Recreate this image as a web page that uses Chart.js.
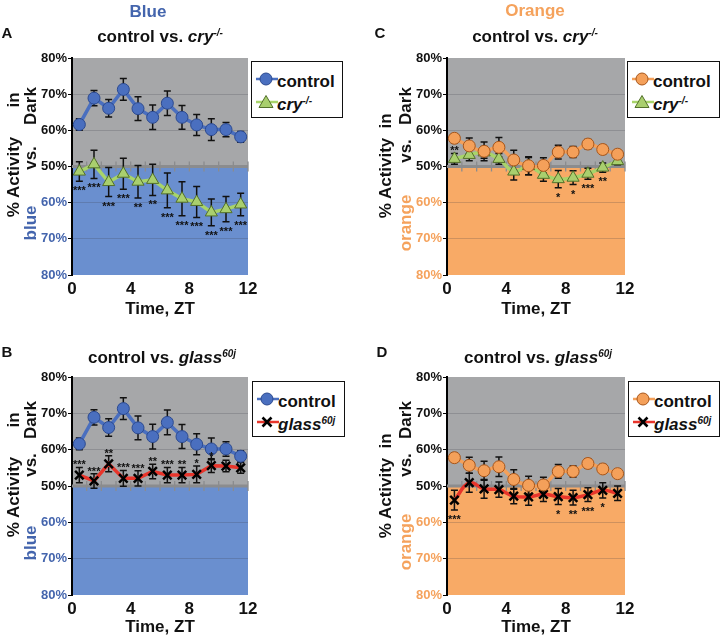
<!DOCTYPE html>
<html><head><meta charset="utf-8">
<script src="https://cdn.jsdelivr.net/npm/chart.js@4.4.0/dist/chart.umd.min.js"></script>
<style>
body{margin:0;background:#fff;}
#fig{position:relative;width:720px;height:638px;font-family:"Liberation Sans",Arial,Helvetica,sans-serif;font-weight:bold;color:#111;overflow:hidden;background:#fff}
.c{position:absolute;white-space:nowrap;transform:translate(-50%,-50%);line-height:1}
.r{position:absolute;white-space:nowrap;transform:translate(-50%,-50%) rotate(-90deg);line-height:1;font-size:17px}
canvas{position:absolute}
sup{font-size:10px;vertical-align:6px;line-height:0;font-style:italic}
.leg{position:absolute;border:1.5px solid #111;background:#fff;box-sizing:border-box}
.li{position:absolute;white-space:nowrap;font-size:17px;line-height:1;transform:translateY(-50%)}
.ls{position:absolute;transform:translateY(-50%)}
</style></head>
<body>
<div id="fig"></div>
<script>
// ---------- data ----------
const ztHours = [0.5,1.5,2.5,3.5,4.5,5.5,6.5,7.5,8.5,9.5,10.5,11.5];
const xTickValues = [0,4,8,12];
const yTickValues = [20,30,40,50,60,70,80];
const yTickLabels = ['80%','70%','60%','50%','60%','70%','80%'];

// % activity in dark (values below 50 = more activity in the light)
const blueControl    = [61.6,68.9,66.1,71.3,66.0,63.6,67.5,63.6,61.5,60.2,60.2,58.2];
const blueControlErr = [1.6,2.1,2.4,3.0,3.3,3.4,3.4,3.3,2.9,3.0,2.0,1.5];
const blueCry        = [48.6,50.6,45.7,48.0,45.8,46.3,43.4,41.1,40.2,37.3,38.2,39.5];
const blueCryErr     = [2.7,3.9,4.0,4.3,4.5,4.3,4.8,4.7,4.3,3.7,3.5,3.1];
const blueCrySig     = ['***','***','***','***','**','**','***','***','***','***','***','***'];
const blueGlass      = [53.0,51.4,56.1,52.1,52.1,54.0,53.0,53.0,53.2,55.6,55.5,55.0];
const blueGlassErr   = [2.1,2.0,2.2,2.2,2.1,2.0,2.1,2.1,2.3,1.9,1.6,1.5];
const blueGlassSig   = ['***','***','**','***','***','**','***','**','*','*','',''];

const orangeControl    = [57.8,55.7,54.2,55.3,51.8,50.2,50.3,54.0,54.0,56.2,54.7,53.4];
const orangeControlErr = [1.2,2.2,2.6,2.7,2.7,2.5,2.1,1.9,1.5,1.3,1.2,1.1];
const orangeCry        = [52.1,53.2,53.9,52.1,48.6,50.1,47.7,46.5,46.9,48.0,49.7,51.5];
const orangeCryErr     = [1.5,1.6,1.6,1.5,2.3,2.4,1.8,2.4,1.9,1.5,1.3,1.0];
const orangeCrySig     = ['**','','','','','','','*','*','***','**',''];
const orangeGlass      = [46.1,50.9,49.2,49.0,47.2,47.0,47.7,47.1,46.8,47.6,48.8,48.0];
const orangeGlassErr   = [2.7,2.6,2.6,2.1,2.1,2.3,2.0,2.2,2.0,1.9,2.1,2.0];
const orangeGlassSig   = ['***','','','','','','','*','**','***','*',''];

// ---------- styles ----------
const COL = {
  gray:'#a6a7a9', blueBg:'#6a8fcf', orangeBg:'#f8aa66',
  blueTxt:'#4465ad', orangeTxt:'#f5a25c',
  ctlBlue:'#4a6fbf', ctlBlueEdge:'#2c4a90',
  ctlOrange:'#f4a05a', ctlOrangeEdge:'#a8561a',
  green:'#a8d46a', greenFill:'#a9cf6e', greenEdge:'#53702a',
  red:'#e8352b'
};

const fig = document.getElementById('fig');
function addDiv(cls, html, x, y, style){
  const d = document.createElement('div');
  d.className = cls; d.innerHTML = html;
  d.style.left = x+'px'; d.style.top = y+'px';
  if (style) Object.assign(d.style, style);
  fig.appendChild(d); return d;
}

const plotPlugin = {
  id:'plotDeco',
  beforeDraw(chart, args, o){
    const {ctx, chartArea:a, scales:{y}} = chart;
    const yT = y.getPixelForValue(80), y5 = y.getPixelForValue(50), yB = y.getPixelForValue(20);
    ctx.save();
    ctx.fillStyle = o.topColor; ctx.fillRect(a.left, yT, a.right-a.left, y5-yT);
    ctx.fillStyle = o.bottomColor; ctx.fillRect(a.left, y5, a.right-a.left, yB-y5);
    ctx.restore();
  },
  beforeDatasetsDraw(chart){
    const {ctx, chartArea:a, scales:{x,y}} = chart;
    const y5 = y.getPixelForValue(50);
    ctx.save();
    ctx.strokeStyle = '#8b8c8e'; ctx.lineWidth = 3;
    ctx.beginPath(); ctx.moveTo(a.left, y5); ctx.lineTo(a.right, y5); ctx.stroke();
    ctx.lineWidth = 1.3; ctx.beginPath();
    for (let v = 1; v <= 12; v++){ const px = x.getPixelForValue(v); ctx.moveTo(px, y5-5); ctx.lineTo(px, y5+5); }
    ctx.stroke();
    ctx.strokeStyle = '#111'; ctx.lineWidth = 1.5;
    chart.data.datasets.forEach(ds => {
      if (!ds.err) return;
      ds.data.forEach((p, i) => {
        const px = x.getPixelForValue(p.x);
        const hi = y.getPixelForValue(p.y + ds.err[i]);
        const lo = y.getPixelForValue(p.y - ds.err[i]);
        ctx.beginPath();
        ctx.moveTo(px, hi); ctx.lineTo(px, lo);
        ctx.moveTo(px-3.5, hi); ctx.lineTo(px+3.5, hi);
        ctx.moveTo(px-3.5, lo); ctx.lineTo(px+3.5, lo);
        ctx.stroke();
      });
    });
    ctx.restore();
  },
  afterDatasetsDraw(chart){
    const {ctx, scales:{x,y}} = chart;
    ctx.save();
    ctx.fillStyle = '#111'; ctx.font = 'bold 11px "Liberation Sans", Arial, sans-serif';
    ctx.textAlign = 'center'; ctx.textBaseline = 'alphabetic';
    chart.data.datasets.forEach(ds => {
      if (!ds.sig) return;
      ds.data.forEach((p, i) => {
        const s = ds.sig[i]; if (!s) return;
        const px = x.getPixelForValue(p.x);
        const above = ds.sigSide === 'above' || (ds.sigAbove || []).includes(i);
        if (above) ctx.fillText(s, px, y.getPixelForValue(p.y + ds.err[i]) + 1);
        else ctx.fillText(s, px, y.getPixelForValue(p.y - ds.err[i]) + 13);
      });
    });
    ctx.restore();
  }
};

function pts(vals){ return ztHours.map((h, i) => ({x:h, y:vals[i]})); }

function makePanel(p){
  const cv = document.createElement('canvas');
  cv.width = p.w; cv.height = p.h;
  cv.style.left = p.left+'px'; cv.style.top = p.top+'px';
  cv.style.width = p.w+'px'; cv.style.height = p.h+'px';
  fig.appendChild(cv);
  const YW = 40;
  const sideTxt = p.side === 'blue' ? COL.blueTxt : COL.orangeTxt;
  new Chart(cv, {
    type:'line',
    data:{datasets:p.datasets},
    options:{
      responsive:false, animation:false, devicePixelRatio:1,
      layout:{autoPadding:false, padding:{left:p.area.l-YW, right:p.w-p.area.r, top:p.area.t, bottom:0}},
      plugins:{legend:{display:false}, tooltip:{enabled:false},
        plotDeco:{topColor:COL.gray, bottomColor:p.side==='blue'?COL.blueBg:COL.orangeBg}},
      elements:{line:{capBezierPoints:true}},
      scales:{
        x:{type:'linear', min:0, max:12,
          afterFit(s){ s.height = p.h - p.area.b; },
          afterBuildTicks(s){ s.ticks = xTickValues.map(v => ({value:v})); },
          grid:{display:false, drawTicks:false}, border:{display:false},
          ticks:{padding:4, color:'#111', font:{family:'"Liberation Sans", Arial, sans-serif', size:17, weight:'bold'}},
          title:{display:true, text:'Time, ZT', color:'#111', padding:{top:0,bottom:0},
            font:{family:'"Liberation Sans", Arial, sans-serif', size:17, weight:'bold'}}
        },
        y:{type:'linear', min:20, max:80,
          afterFit(s){ s.width = YW; },
          afterBuildTicks(s){ s.ticks = yTickValues.map(v => ({value:v})); },
          border:{display:true, color:'#000', width:2},
          grid:{drawTicks:true, tickLength:4, tickColor:'#000', tickWidth:1,
            color: c => (c.tick && [20,50,80].includes(c.tick.value)) ? 'rgba(0,0,0,0)' : 'rgba(60,60,70,0.22)',
            lineWidth:1},
          ticks:{padding:1, callback:(v, i) => yTickLabels[yTickValues.indexOf(v)],
            color: c => c.tick.value < 50 ? sideTxt : '#111',
            font:{family:'"Liberation Sans", Arial, sans-serif', size:13, weight:'bold'}}
        }
      }
    },
    plugins:[plotPlugin]
  });
}

function controlDS(side){
  const b = side === 'blue';
  return {label:'control', data:pts(b?blueControl:orangeControl), err:b?blueControlErr:orangeControlErr,
    borderColor:b?COL.ctlBlue:COL.ctlOrange, borderWidth:3.5,
    pointStyle:'circle', pointRadius:6, pointBackgroundColor:b?COL.ctlBlue:COL.ctlOrange,
    pointBorderColor:b?COL.ctlBlueEdge:COL.ctlOrangeEdge, pointBorderWidth:1, tension:b?0:0.4};
}
function cryDS(side){
  const b = side === 'blue';
  return {label:'cry', data:pts(b?blueCry:orangeCry), err:b?blueCryErr:orangeCryErr,
    sig:b?blueCrySig:orangeCrySig, sigSide:'below', sigAbove:b?[]:[0],
    borderColor:COL.green, borderWidth:3.5, pointStyle:'triangle', pointRadius:7,
    pointBackgroundColor:COL.greenFill, pointBorderColor:COL.greenEdge, pointBorderWidth:1, tension:b?0:0.4};
}
function glassDS(side){
  const b = side === 'blue';
  return {label:'glass', data:pts(b?blueGlass:orangeGlass), err:b?blueGlassErr:orangeGlassErr,
    sig:b?blueGlassSig:orangeGlassSig, sigSide:b?'above':'below',
    borderColor:COL.red, borderWidth:3.5, pointStyle:'crossRot', pointRadius:6,
    pointBorderColor:'#000', pointBackgroundColor:'#000', pointBorderWidth:2.5, tension:b?0:0.4};
}

makePanel({left:0, top:0, w:360, h:320, area:{l:72,t:58,r:248,b:275}, side:'blue', datasets:[controlDS('blue'), cryDS('blue')]});
makePanel({left:0, top:320, w:360, h:318, area:{l:72,t:57,r:248,b:275}, side:'blue', datasets:[controlDS('blue'), glassDS('blue')]});
makePanel({left:360, top:0, w:360, h:320, area:{l:87,t:58,r:265,b:275}, side:'orange', datasets:[controlDS('orange'), cryDS('orange')]});
makePanel({left:360, top:320, w:360, h:318, area:{l:87,t:57,r:265,b:275}, side:'orange', datasets:[controlDS('orange'), glassDS('orange')]});

// ---------- text ----------
addDiv('c', 'Blue', 148, 11, {fontSize:'17px', color:COL.blueTxt});
addDiv('c', 'Orange', 535, 10, {fontSize:'17px', color:COL.orangeTxt});
addDiv('c', 'A', 7, 32, {fontSize:'15px'});
addDiv('c', 'C', 380, 32, {fontSize:'15px'});
addDiv('c', 'B', 7, 351, {fontSize:'15px'});
addDiv('c', 'D', 382, 351, {fontSize:'15px'});
const tCry = 'control vs. <i>cry</i><sup>-/-</sup>';
const tGlass = 'control vs. <i>glass</i><sup>60j</sup>';
addDiv('c', tCry, 160, 36, {fontSize:'17px'});
addDiv('c', tCry, 535, 36, {fontSize:'17px'});
addDiv('c', tGlass, 162, 357, {fontSize:'17px'});
addDiv('c', tGlass, 538, 357, {fontSize:'17px'});

function yTitle(x1, x2, pAct, pIn, pLight, pVs, pDark, lightWord, lightCol){
  addDiv('r', '% Activity', x1, pAct);
  addDiv('r', 'in', x1, pIn);
  addDiv('r', lightWord, x2, pLight, {color:lightCol});
  addDiv('r', 'vs.', x2, pVs);
  addDiv('r', 'Dark', x2, pDark);
}
yTitle(13, 30, 177, 100, 223, 158, 106, 'blue', COL.blueTxt);
yTitle(13, 30, 497, 420, 543, 465, 420, 'blue', COL.blueTxt);
yTitle(385, 405, 178, 121, 223, 151, 106, 'orange', COL.orangeTxt);
yTitle(385, 405, 498, 441, 542, 465, 420, 'orange', COL.orangeTxt);

// ---------- legends ----------
function marker(kind, side){
  const lc = kind==='control' ? (side==='blue'?COL.ctlBlue:COL.ctlOrange) : kind==='cry' ? COL.green : COL.red;
  let m = '';
  if (kind==='control'){
    const f = side==='blue'?COL.ctlBlue:COL.ctlOrange, e = side==='blue'?COL.ctlBlueEdge:COL.ctlOrangeEdge;
    m = `<circle cx="10" cy="8" r="6" fill="${f}" stroke="${e}" stroke-width="1"/>`;
  } else if (kind==='cry'){
    m = `<polygon points="10,1.5 17,13.5 3,13.5" fill="${COL.greenFill}" stroke="${COL.greenEdge}" stroke-width="1"/>`;
  } else {
    m = `<path d="M5.5,3.5 L14.5,12.5 M14.5,3.5 L5.5,12.5" stroke="#000" stroke-width="2.6"/>`;
  }
  return `<svg width="22" height="16" viewBox="0 0 22 16"><line x1="0" y1="8" x2="22" y2="8" stroke="${lc}" stroke-width="2.5"/>${m}</svg>`;
}
function legend(x, y, w, h, side, second){
  const d = document.createElement('div');
  d.className = 'leg';
  Object.assign(d.style, {left:x+'px', top:y+'px', width:w+'px', height:h+'px'});
  const rows = [['control','control'], [second, second==='cry' ? '<i>cry</i><sup>-/-</sup>' : '<i>glass</i><sup>60j</sup>']];
  rows.forEach((r, i) => {
    const cy = i === 0 ? 19 : 42;
    const s = document.createElement('div'); s.className = 'ls';
    s.style.left = '4px'; s.style.top = cy+'px'; s.innerHTML = marker(r[0], side);
    d.appendChild(s);
    const t = document.createElement('div'); t.className = 'li';
    t.style.left = '25px'; t.style.top = cy+'px'; t.innerHTML = r[1];
    d.appendChild(t);
  });
  fig.appendChild(d);
}
legend(251, 61, 92, 57, 'blue', 'cry');
legend(252, 381, 93, 56, 'blue', 'glass');
legend(627, 61, 93, 57, 'orange', 'cry');
legend(628, 381, 92, 56, 'orange', 'glass');
</script>
</body></html>
